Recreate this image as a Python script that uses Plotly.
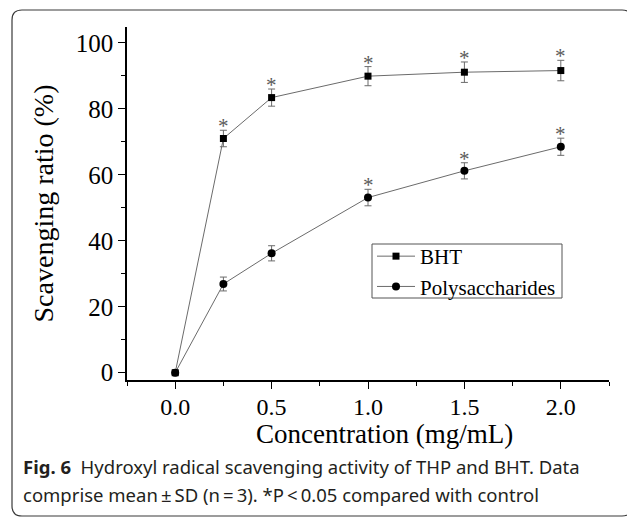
import plotly.graph_objects as go

# ---- data ----
concentration = [0.0, 0.25, 0.5, 1.0, 1.5, 2.0]
bht_mean = [0.0, 71.0, 83.4, 89.9, 91.1, 91.6]
bht_sd = [0.0, 2.5, 2.6, 2.9, 3.1, 3.1]
poly_mean = [0.0, 26.9, 36.2, 53.1, 61.2, 68.5]
poly_sd = [0.0, 2.1, 2.3, 2.5, 2.45, 2.6]
bht_sig = [False, True, True, True, True, True]
poly_sig = [False, False, False, True, True, True]
x_tickvals = [0.0, 0.5, 1.0, 1.5, 2.0]
x_ticktext = ["0.0", "0.5", "1.0", "1.5", "2.0"]
y_tickvals = [0, 20, 40, 60, 80, 100]
y_ticktext = ["0", "20", "40", "60", "80", "100"]
x_title = "Concentration (mg/mL)"
y_title = "Scavenging ratio (%)"
caption_1 = "<b>Fig. 6</b>  Hydroxyl radical scavenging activity of THP and BHT. Data"
caption_2 = "comprise mean\u2009±\u2009SD (n\u2009=\u20093). *P\u2009<\u20090.05 compared with control"

W, H = 627, 519
L, R, T, B = 127, 18, 27, 139
PW, PH = W - L - R, H - T - B

def px(x):
    return (x - L) / PW

def py(y):
    return (H - B - y) / PH

SERIF = "Liberation Serif, Times New Roman, serif"
LINE_GREY = "#6b6b6b"

fig = go.Figure()

fig.add_trace(go.Scatter(
    x=concentration, y=bht_mean, name="BHT", mode="lines+markers",
    line=dict(color=LINE_GREY, width=1),
    marker=dict(symbol="square", size=7, color="black"),
    error_y=dict(type="data", array=bht_sd, visible=True, color=LINE_GREY, thickness=1, width=3.5),
))
fig.add_trace(go.Scatter(
    x=concentration, y=poly_mean, name="Polysaccharides", mode="lines+markers",
    line=dict(color=LINE_GREY, width=1),
    marker=dict(symbol="circle", size=8, color="black"),
    error_y=dict(type="data", array=poly_sd, visible=True, color=LINE_GREY, thickness=1, width=3.5),
))

# significance asterisks above error bars
for mean, sd, sig in ((bht_mean, bht_sd, bht_sig), (poly_mean, poly_sd, poly_sig)):
    for c, m, d, s in zip(concentration, mean, sd, sig):
        if s:
            fig.add_annotation(
                x=c, y=m + d, xref="x", yref="y", text="*", showarrow=False,
                xanchor="center", yanchor="middle", yshift=4,
                font=dict(family=SERIF, size=21, color="#5a5a5a"),
            )

axis_common = dict(
    showline=True, linecolor="black", linewidth=1.5, mirror=False,
    showgrid=False, zeroline=False, ticks="outside", ticklen=7, tickwidth=1.3,
    tickcolor="black",
)

fig.update_xaxes(
    range=[-0.25, 2.25], tickmode="array", tickvals=x_tickvals, ticktext=x_ticktext,
    tickfont=dict(family=SERIF, size=24, color="black"), ticklabelstandoff=-3,
    minor=dict(dtick=0.25, tick0=0, ticks="outside", ticklen=4, tickwidth=1.3, tickcolor="black"),
    **axis_common,
)
fig.update_yaxes(
    range=[-2.2, 104.8], tickmode="array", tickvals=y_tickvals, ticktext=y_ticktext,
    tickfont=dict(family=SERIF, size=25, color="black"),
    minor=dict(dtick=10, tick0=0, ticks="outside", ticklen=4, tickwidth=1.3, tickcolor="black"),
    title=dict(text=y_title, font=dict(family=SERIF, size=28, color="black"), standoff=14),
    **axis_common,
)

# x-axis title (offset to the right as in the original)
fig.add_annotation(
    x=px(384.5), y=py(434.5), xref="paper", yref="paper", xanchor="center", yanchor="middle",
    text=x_title, showarrow=False, font=dict(family=SERIF, size=27, color="black"),
)

# rounded frame around figure + caption
x0, x1, y0, y1, r = 12, 632, 10, 516, 10
path = (
    f"M {px(x0 + r)} {py(y0)} L {px(x1 - r)} {py(y0)} "
    f"Q {px(x1)} {py(y0)} {px(x1)} {py(y0 + r)} L {px(x1)} {py(y1 - r)} "
    f"Q {px(x1)} {py(y1)} {px(x1 - r)} {py(y1)} L {px(x0 + r)} {py(y1)} "
    f"Q {px(x0)} {py(y1)} {px(x0)} {py(y1 - r)} L {px(x0)} {py(y0 + r)} "
    f"Q {px(x0)} {py(y0)} {px(x0 + r)} {py(y0)} Z"
)
fig.add_shape(type="path", path=path, xref="paper", yref="paper",
              line=dict(color="#3a3a3a", width=1.2), fillcolor="rgba(0,0,0,0)", layer="below")

# legend frame
fig.add_shape(type="rect", xref="paper", yref="paper",
              x0=px(372), x1=px(562), y0=py(298), y1=py(244),
              line=dict(color="#555555", width=1), fillcolor="rgba(0,0,0,0)", layer="above")

CAP_FONT = dict(family="Noto Sans, Open Sans, sans-serif", size=18.5, color="#231f20")
fig.add_annotation(
    x=px(21), y=py(466), xref="paper", yref="paper", xanchor="left", yanchor="middle",
    text=caption_1, showarrow=False, font=CAP_FONT,
)
fig.add_annotation(
    x=px(21), y=py(495), xref="paper", yref="paper", xanchor="left", yanchor="middle",
    text=caption_2, showarrow=False, font=CAP_FONT,
)

fig.update_layout(
    width=W, height=H, margin=dict(l=L, r=R, t=T, b=B, autoexpand=False),
    paper_bgcolor="white", plot_bgcolor="white",
    showlegend=True,
    legend=dict(
        x=px(372), y=py(236), xanchor="left", yanchor="top",
        bgcolor="rgba(0,0,0,0)", borderwidth=0,
        font=dict(family=SERIF, size=21, color="black"),
        itemwidth=38, tracegroupgap=0,
    ),
)

fig.write_html("out.html")
